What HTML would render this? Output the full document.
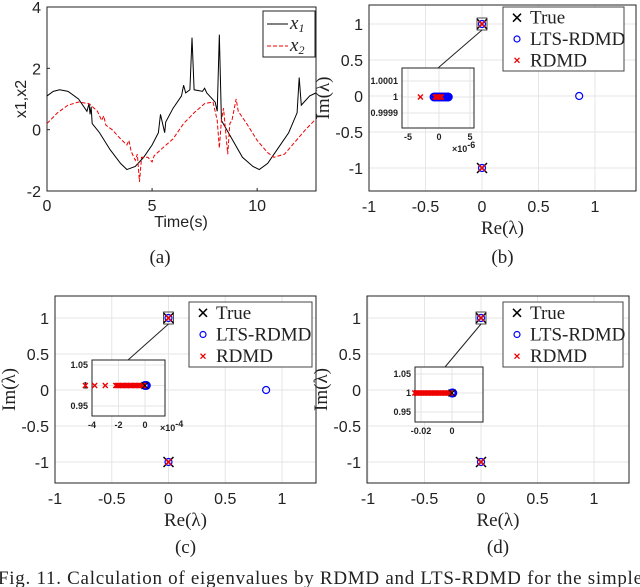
<!DOCTYPE html>
<html><head><meta charset="utf-8"><style>
body{margin:0;background:#fff}
svg{display:block}
.tk{font-family:"Liberation Sans",sans-serif;font-size:16px;fill:#222}
.sm{font-family:"Liberation Sans",sans-serif;font-size:9px;fill:#222;font-weight:bold}
.sr{font-family:"Liberation Serif",serif;font-size:19px;fill:#222}
</style></head><body>
<svg id="s" width="640" height="587" viewBox="0 0 640 587">
<text class="sr" x="-2" y="584" font-size="19" textLength="644" lengthAdjust="spacing">Fig. 11.  Calculation of eigenvalues by RDMD and LTS-RDMD for the simple</text>
</svg>
<script>
const x1T=[0,0.3,0.6,1.0,1.5,1.9,2.0,2.05,2.1,2.15,2.5,3.0,3.5,3.8,4.2,4.6,5.0,5.3,5.4,5.55,5.6,5.65,6.0,6.4,6.5,6.6,6.8,6.9,7.0,7.4,7.5,7.6,8.0,8.1,8.2,8.3,8.8,9.3,9.8,10.1,10.5,11.0,11.5,11.9,12.0,12.1,12.5,12.8];
const x1V=[1.1,1.25,1.3,1.25,1.0,0.6,0.85,0.5,0.75,0.2,-0.1,-0.65,-1.1,-1.3,-1.2,-0.9,-0.5,-0.1,0.5,0.05,-0.1,0.25,0.7,1.1,1.45,1.2,1.3,3.0,1.3,1.25,1.35,1.2,0.9,0.6,3.1,0.3,-0.3,-0.9,-1.2,-1.3,-1.1,-0.6,-0.1,0.55,1.7,0.8,1.1,1.2];
const x2T=[0,0.5,1.0,1.5,2.0,2.4,2.6,2.7,2.8,3.1,3.5,3.8,3.9,4.0,4.2,4.3,4.4,4.5,4.8,5.0,5.1,5.5,6.0,6.5,7.0,7.5,7.9,8.1,8.2,8.3,8.4,8.6,8.7,8.8,9.0,9.1,9.5,10.0,10.5,10.8,11.3,11.8,12.3,12.8];
const x2V=[0.2,0.55,0.8,0.9,0.85,0.6,0.3,0.45,0.15,0.0,-0.3,-0.5,-0.35,-0.7,-1.0,-0.8,-1.7,-0.9,-0.9,-1.05,-0.85,-0.6,-0.3,0.2,0.55,0.85,0.9,0.3,-0.6,0.3,0.7,-0.8,0.2,0.3,1.0,0.6,0.2,-0.35,-0.75,-0.9,-0.8,-0.4,0.0,0.35];
const trueRe=[0,0],trueIm=[1,-1];
const ltsRe=[0,0,0.86],ltsIm=[1,-1,0];
const rdRe=[0,0],rdIm=[1,-1];
const ltsReD=[0,0],ltsImD=[1,-1];
const insetB_rd=[-3,-0.6,-0.4,-0.2,0,0.2,0.4];const insetB_lts=[-0.8,-0.5,-0.2,0.1,0.4,0.7,1.0,1.3,1.5];
const insetC_rd=[-4.5,-3.8,-3.0,-2.2,-2.1,-2.0,-1.9,-1.8,-1.7,-1.6,-1.5,-1.4,-1.3,-1.2,-1.1,-1.0,-0.9,-0.8,-0.7,-0.6,-0.5,-0.4,-0.3,-0.2,-0.1];const insetC_lts=[0,0.1];
const insetD_rd=[-0.024,-0.023,-0.022,-0.021,-0.02,-0.019,-0.018,-0.017,-0.016,-0.015,-0.014,-0.013,-0.012,-0.011,-0.01,-0.009,-0.008,-0.007,-0.006,-0.005,-0.004,-0.003,-0.002,-0.001];const insetD_lts=[0,0.0005];
const S=document.getElementById('s');const NS='http://www.w3.org/2000/svg';
function E(t,a,p){const e=document.createElementNS(NS,t);for(const k in a)e.setAttribute(k,a[k]);(p||S).appendChild(e);return e;}
function T(x,y,s,c,anchor){const e=E('text',{x:x,y:y,class:c,'text-anchor':anchor||'middle'});e.textContent=s;return e;}
function lin(d0,d1,r0,r1){return v=>r0+(v-d0)/(d1-d0)*(r1-r0);}
function cross(x,y,r,col,w){return E('path',{d:`M${x-r},${y-r}L${x+r},${y+r}M${x-r},${y+r}L${x+r},${y-r}`,stroke:col,'stroke-width':w,fill:'none'});}
(function(){
 const X=lin(0,12.8,47,316),Y=lin(-2,4,191,7);
 const f=E('rect',{x:47,y:7,width:269,height:184,fill:'none',stroke:'#222'});
 
 [0,5,10].forEach(v=>{T(X(v),211,v,'tk');E('line',{x1:X(v),x2:X(v),y1:191,y2:188,stroke:'#222'});});
 [-2,0,2,4].forEach(v=>{T(41,Y(v)+6,v,'tk','end');E('line',{x1:47,x2:50,y1:Y(v),y2:Y(v),stroke:'#222'});});
 const yl=T(0,0,'x1,x2','tk');yl.setAttribute('transform','translate(26,99) rotate(-90)');
 T(181,227,'Time(s)','tk');
 let p1=E('polyline',{points:x1T.map((t,i)=>X(t)+','+Y(x1V[i])).join(' '),fill:'none',stroke:'#000','stroke-width':1});
 
 let p2=E('polyline',{points:x2T.map((t,i)=>X(t)+','+Y(x2V[i])).join(' '),fill:'none',stroke:'#e00','stroke-width':1,'stroke-dasharray':'4,2'});
 
 const lg=E('rect',{x:263,y:11,width:52,height:46,fill:'#fff',stroke:'#222'});
 
 E('line',{x1:267,x2:288,y1:24,y2:24,stroke:'#000'});E('line',{x1:267,x2:288,y1:46,y2:46,stroke:'#e00','stroke-dasharray':'4,2'});
 const a=T(290,29,'x','sr','start');a.setAttribute('font-style','italic');const s1=E('tspan',{'font-size':12,dy:3},a);s1.textContent='1';
 const b=T(290,51,'x','sr','start');b.setAttribute('font-style','italic');const s2=E('tspan',{'font-size':12,dy:3},b);s2.textContent='2';
 T(160,263,'(a)','sr');
})();
function eig(c){
 const X=lin(-1,1,c.x0,c.x1v),Y=lin(-1,1,c.ym1,c.y1);
 const L=c.l,R=c.r,Tp=c.t,B=c.b;
 [-1,-0.5,0,0.5,1].forEach(v=>{E('line',{x1:X(v),x2:X(v),y1:Tp,y2:B,stroke:'#e6e6e6'});T(X(v),B+21,v,'tk');});
 [-1,-0.5,0,0.5,1].forEach(v=>{E('line',{x1:L,x2:R,y1:Y(v),y2:Y(v),stroke:'#e6e6e6'});T(L-6,Y(v)+6,v,'tk','end');});
 const f=E('rect',{x:L,y:Tp,width:R-L,height:B-Tp,fill:'none',stroke:'#222'});
 
 const yl=T(0,0,'Im(λ)','sr');yl.setAttribute('transform',`translate(${L-40},${(Tp+B)/2}) rotate(-90)`);
 T((L+R)/2,B+43,'Re(λ)','sr');
 c.tRe.forEach((v,i)=>{const m=cross(X(v),Y(c.tIm[i]),5,'#000',1.5);});
 c.lRe.forEach((v,i)=>{const m=E('circle',{cx:X(v),cy:Y(c.lIm[i]),r:3.5,fill:'none',stroke:'#00f','stroke-width':1.2});});
 c.rRe.forEach((v,i)=>{const m=cross(X(v),Y(c.rIm[i]),3,'#e00',1.3);});
 E('rect',{x:X(0)-5,y:Y(1)-6,width:10,height:12,fill:'none',stroke:'#222','stroke-width':0.8});
 const I=c.ins;const iX=lin(I.d0,I.d1,I.px0,I.px1),iY=lin(I.y0v,I.y1v,I.py0,I.py1);
 E('line',{x1:X(0),y1:Y(1)+6,x2:I.lx,y2:I.t,stroke:'#222'});
 const ir=E('rect',{x:I.l,y:I.t,width:I.r-I.l,height:I.b-I.t,fill:'#fff',stroke:'#222'});
 
 I.xt.forEach((v,k)=>{E('line',{x1:iX(v),x2:iX(v),y1:I.t,y2:I.b,stroke:'#e6e6e6'});T(iX(v),I.b+12,I.xl[k],'sm');});
 I.yt.forEach((v,k)=>{E('line',{x1:I.l,x2:I.r,y1:iY(v),y2:iY(v),stroke:'#e6e6e6'});T(I.l-4,iY(v)+3,I.yl[k],'sm','end');});
 E('rect',{x:I.l,y:I.t,width:I.r-I.l,height:I.b-I.t,fill:'none',stroke:'#222'});
 if(I.ex){const ex=T(I.ex[0],I.ex[1],'×10','sm','start');const sp=E('tspan',{dy:-4},ex);sp.textContent=I.ex[2];}
 I.lts.forEach(v=>{const m=E('circle',{cx:iX(v),cy:iY(1),r:3.5,fill:'none',stroke:'#00f','stroke-width':2});});
 I.rd.forEach(v=>{const m=cross(iX(v),iY(1),2.5,'#e00',1.4);});
 if(I.tr)cross(iX(0),iY(1),3.5,'#000',1);
 const G=c.lg;const lr=E('rect',{x:G[0],y:G[1],width:G[2]-G[0],height:G[3]-G[1],fill:'#fff',stroke:'#444'});
 
 const h=(G[3]-G[1])/3;
 cross(G[0]+14,G[1]+h*0.5,4,'#000',1.5);T(G[0]+27,G[1]+h*0.5+6,'True','sr','start');
 E('circle',{cx:G[0]+14,cy:G[1]+h*1.5,r:3,fill:'none',stroke:'#00f','stroke-width':1.2});T(G[0]+27,G[1]+h*1.5+6,'LTS-RDMD','sr','start');
 cross(G[0]+14,G[1]+h*2.5,2.5,'#e00',1.3);T(G[0]+27,G[1]+h*2.5+6,'RDMD','sr','start');
 T((L+R)/2,c.cap,'('+c.n+')','sr');
}
eig({n:'b',l:369,r:636,t:5,b:191,x0:369,x1v:595,ym1:168,y1:24,tRe:trueRe,tIm:trueIm,lRe:ltsRe,lIm:ltsIm,rRe:rdRe,rIm:rdIm,
 ins:{l:402,r:474,t:68,b:128,lx:438,d0:-5,d1:5,px0:408,px1:470,y0v:0.9999,y1v:1.0001,py0:113,py1:81,xt:[-5,0,5],xl:['-5','0','5'],yt:[0.9999,1,1.0001],yl:['0.9999','1','1.0001'],lts:insetB_lts,rd:insetB_rd,ex:[452,152,'-6']},
 lg:[503,7,624,71],cap:263});
eig({n:'c',l:55,r:316,t:296,b:483,x0:55,x1v:282,ym1:462,y1:318,tRe:trueRe,tIm:trueIm,lRe:ltsRe,lIm:ltsIm,rRe:rdRe,rIm:rdIm,
 ins:{l:92,r:165,t:360,b:416,lx:128,d0:-4,d1:0,px0:92,px1:145,y0v:0.95,y1v:1.05,py0:406,py1:365,xt:[-4,-2,0],xl:['-4','-2','0'],yt:[0.95,1,1.05],yl:['0.95','1','1.05'],lts:insetC_lts,rd:insetC_rd,tr:1,ex:[160,431,'-4']},
 lg:[189,302,312,367],cap:553});
eig({n:'d',l:367,r:629,t:296,b:483,x0:368,x1v:594,ym1:462,y1:318,tRe:trueRe,tIm:trueIm,lRe:ltsReD,lIm:ltsImD,rRe:rdRe,rIm:rdIm,
 ins:{l:415,r:483,t:367,b:422,lx:445,d0:-0.02,d1:0,px0:421,px1:452,y0v:0.95,y1v:1.05,py0:412,py1:374,xt:[-0.02,0],xl:['-0.02','0'],yt:[0.95,1,1.05],yl:['0.95','1','1.05'],lts:insetD_lts,rd:insetD_rd,tr:1},
 lg:[503,302,623,367],cap:553});
</script>
</body></html>
